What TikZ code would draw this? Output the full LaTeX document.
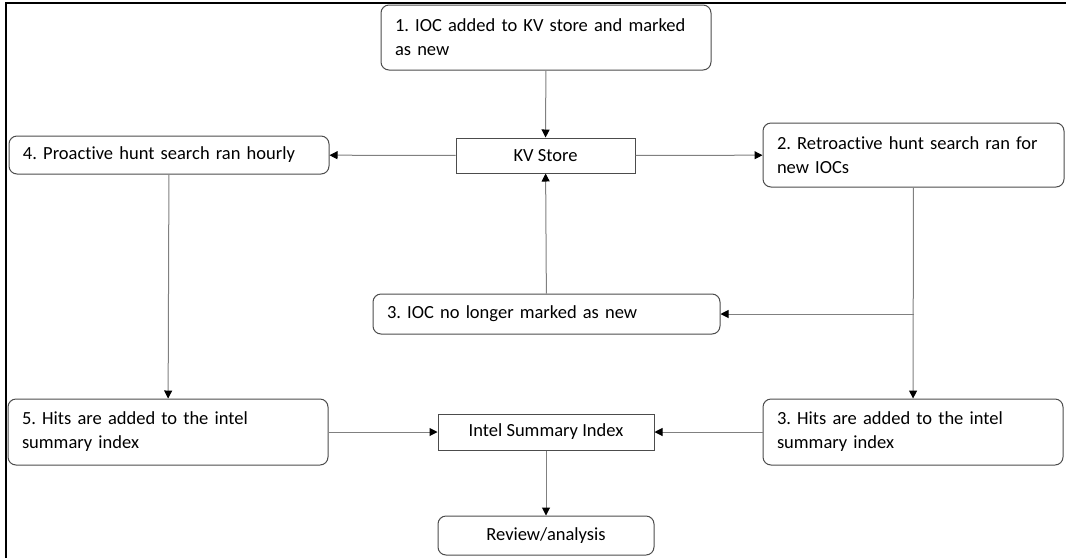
\documentclass[tikz,border=0pt]{standalone}
\usepackage{fontspec}
\setmainfont{Carlito}[Ligatures=NoCommon]
\usetikzlibrary{arrows.meta}
\tikzset{
  stepbox/.style={draw=black!70, line width=1pt, rounded corners=8pt, inner xsep=14pt, align=left},
  plainbox/.style={draw=black!70, line width=1pt, align=center},
  flow/.style={draw=black!50, line width=1pt, -{Triangle[length=8pt,width=8pt,color=black]}},
}
\frenchspacing
\begin{document}
\begin{tikzpicture}[x=1pt, y=-1pt, font=\fontsize{18.5}{24}\selectfont]
\useasboundingbox (0,0) rectangle (1066,558);
% frame at top and left
\draw[line width=2pt] (6,558) -- (6,3) -- (1066,3);

\node (st1)[stepbox, text width=302pt, minimum height=65pt] at (546,37.5) {1. IOC added to KV store and marked\\as new};
\node (kv)[plainbox, minimum width=179pt, minimum height=35pt] at (545.5,155.5) {KV Store};
\node (st4)[stepbox, text width=292pt, minimum height=38pt] at (169,155) {4. Proactive hunt search ran hourly};
\node (st2)[stepbox, text width=273pt, minimum height=64pt] at (913.5,155) {2. Retroactive hunt search ran for\\new IOCs};
\node (st3)[stepbox, text width=319pt, minimum height=40pt] at (546.5,314) {3. IOC no longer marked as new};
\node (st5)[stepbox, text width=292pt, minimum height=66pt] at (168,432) {5. Hits are added to the intel\\summary index};
\node (hit3)[stepbox, text width=272pt, minimum height=66pt] at (913,432) {3. Hits are added to the intel\\summary index};
\node (isi)[plainbox, minimum width=216pt, minimum height=36pt] at (546,432) {Intel Summary Index};
\node (rev)[plainbox, rounded corners=8pt, minimum width=216pt, minimum height=39pt] at (546,535.5) {Review/analysis};

\coordinate (jn) at (st2.south |- st3.east);
\draw[flow] (st1) -- (kv);
\draw[flow] (kv) -- (st4);
\draw[flow] (kv) -- (st2);
\draw[flow] (st3) -- (kv);
\draw[flow] (st2) -- (hit3);
\draw[flow] (jn) -- (st3);
\draw[flow] (st4) -- (st5);
\draw[flow] (st5) -- (isi);
\draw[flow] (hit3) -- (isi);
\draw[flow] (isi) -- (rev);
\end{tikzpicture}
\end{document}
